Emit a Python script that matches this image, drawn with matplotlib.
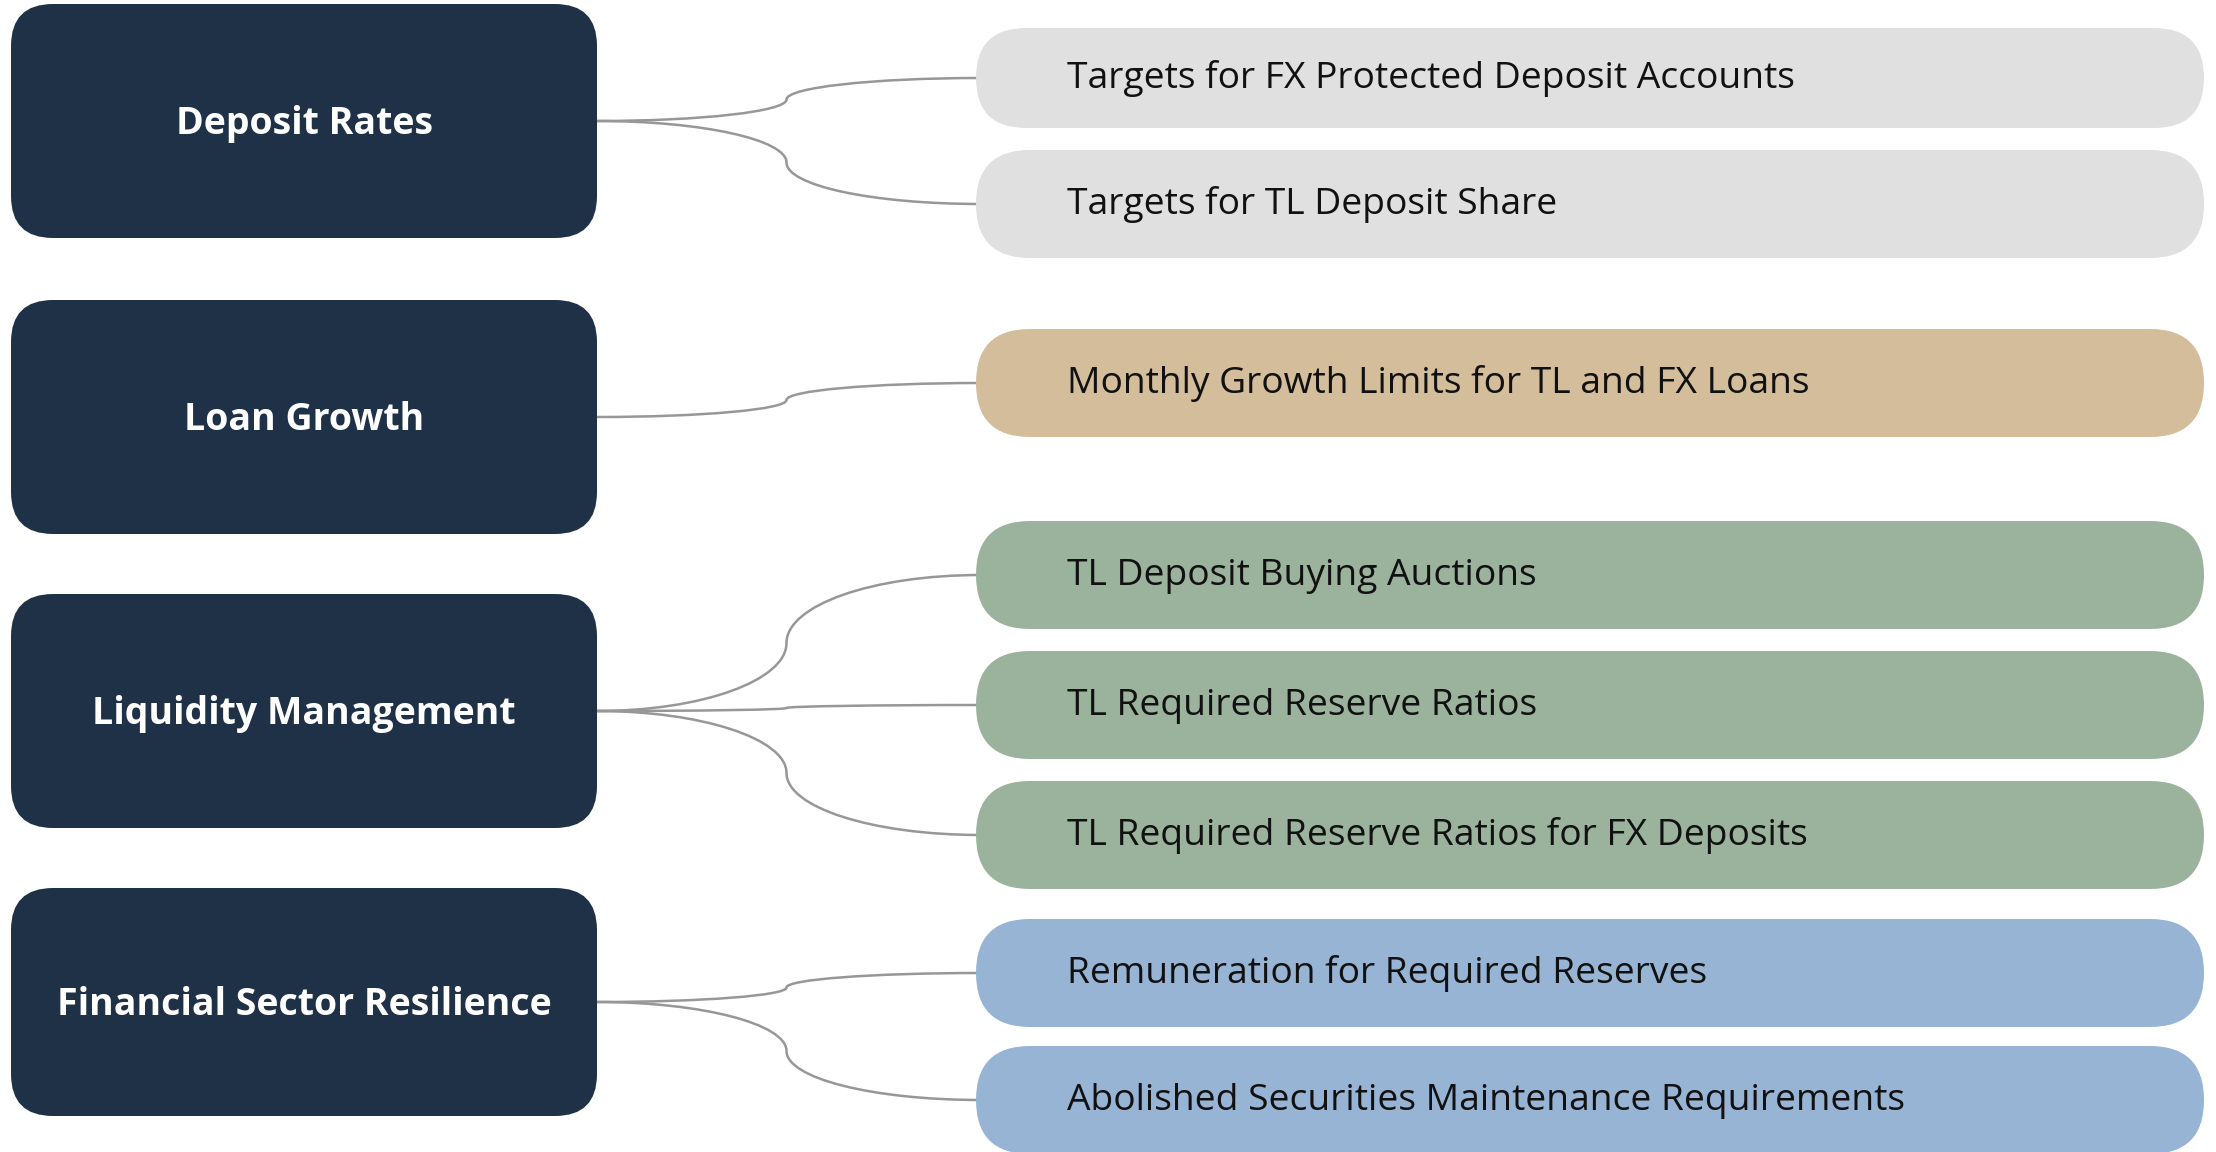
import numpy as np
import matplotlib.pyplot as plt
from matplotlib.patches import FancyBboxPatch, PathPatch
from matplotlib.path import Path

# chart content
groups = ["Deposit Rates", "Loan Growth", "Liquidity Management",
          "Financial Sector Resilience"]
items = ["Targets for FX Protected Deposit Accounts",
         "Targets for TL Deposit Share",
         "Monthly Growth Limits for TL and FX Loans",
         "TL Deposit Buying Auctions",
         "TL Required Reserve Ratios",
         "TL Required Reserve Ratios for FX Deposits",
         "Remuneration for Required Reserves",
         "Abolished Securities Maintenance Requirements"]
item_group = [0, 0, 1, 2, 2, 2, 3, 3]
item_colors = ["#E0E0E0", "#E0E0E0", "#D3BD9B", "#9BB39D", "#9BB39D",
               "#9BB39D", "#98B4D4", "#98B4D4"]

# layout (pixels)
W, H = 2216, 1152
group_x, group_w = 11, 586
group_top = [4, 300, 594, 888]
group_h = [234, 234, 234, 228]
item_x, item_w = 976, 1228
item_top = [28, 150, 329, 521, 651, 781, 919, 1046]
item_h = [100, 108, 108, 108, 108, 108, 108, 108]
navy = "#1E3146"

fig = plt.figure(figsize=(W / 100, H / 100), dpi=100)
ax = fig.add_axes([0, 0, 1, 1])
ax.set_xlim(0, W)
ax.set_ylim(H, 0)
ax.axis("off")

# connectors: two quarter-ellipse bezier halves
k = 0.552
x0 = group_x + group_w
x3 = item_x
xm = (x0 + x3) / 2
for i, g in enumerate(item_group):
    y0 = group_top[g] + group_h[g] / 2
    y3 = item_top[i] + item_h[i] / 2
    ym = (y0 + y3) / 2
    verts = [(x0, y0), (x0 + k * (xm - x0), y0), (xm, ym + k * (y0 - ym)), (xm, ym),
             (xm, ym + k * (y3 - ym)), (x3 - k * (x3 - xm), y3), (x3 + 5, y3)]
    codes = [Path.MOVETO] + [Path.CURVE4] * 6
    ax.add_patch(PathPatch(Path(verts, codes), fill=False, edgecolor="#979797", lw=1.8))

# left category boxes
for g, name in enumerate(groups):
    ax.add_patch(FancyBboxPatch((group_x, group_top[g]), group_w, group_h[g],
                                boxstyle="round,pad=0,rounding_size=42",
                                facecolor=navy, edgecolor="none"))
    ax.text(group_x + group_w / 2, group_top[g] + group_h[g] / 2 + 13, name,
            ha="center", va="baseline", color="white", fontsize=27,
            fontweight="bold", family="Open Sans")

# right pills
for i, label in enumerate(items):
    r = item_h[i] / 2
    ax.add_patch(FancyBboxPatch((item_x, item_top[i]), item_w, item_h[i],
                                boxstyle=f"round,pad=0,rounding_size={r}",
                                facecolor=item_colors[i], edgecolor="none"))
    ax.text(1067, item_top[i] + item_h[i] / 2 + 10, label, ha="left", va="baseline",
            color="#111111", fontsize=26.8, family="Open Sans")

fig.savefig("out.png", dpi=100, facecolor="white")
